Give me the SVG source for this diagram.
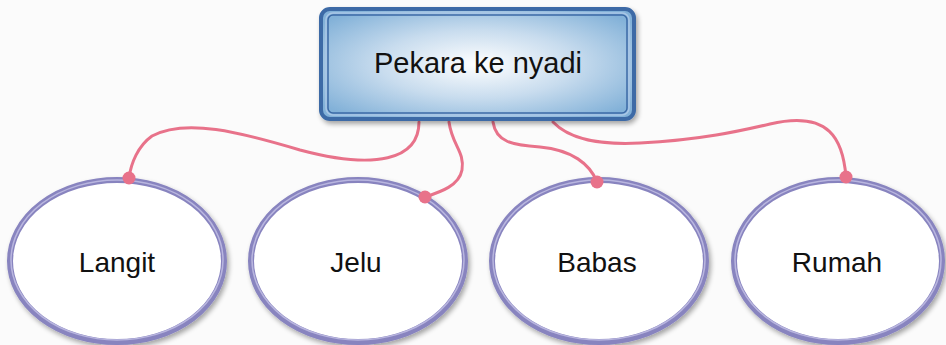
<svg xmlns="http://www.w3.org/2000/svg" width="946" height="345" viewBox="0 0 946 345">
<defs>
<radialGradient id="boxFill" cx="50%" cy="50%" r="62%">
<stop offset="0" stop-color="#ffffff"/>
<stop offset="0.5" stop-color="#c8dcee"/>
<stop offset="1" stop-color="#82b1d8"/>
</radialGradient>
<filter id="shadow" x="-10%" y="-10%" width="125%" height="130%">
<feGaussianBlur in="SourceAlpha" stdDeviation="2.5"/>
<feOffset dx="2" dy="3" result="b"/>
<feComponentTransfer><feFuncA type="linear" slope="0.35"/></feComponentTransfer>
<feMerge><feMergeNode/><feMergeNode in="SourceGraphic"/></feMerge>
</filter>
</defs>
<style>
.lbl{font-family:"Liberation Sans",Arial,sans-serif;font-size:28px;fill:#111;text-anchor:middle}
.ell{fill:#ffffff;stroke:#8884bf;stroke-width:6}
.ellhi{fill:none;stroke:#b9b6df;stroke-width:1.5}
.con{fill:none;stroke:#e8728a;stroke-width:3;stroke-linecap:round}
.dot{fill:#e8728a}
</style>
<rect width="946" height="345" fill="#fbfbfb"/>
<g id="connectors">
<path class="con" d="M419,122 C419,160 375,170 300,150 C240,132 185,118 152,136 C138,146 131,163 129,178"/>
<path class="con" d="M449,122 C452,145 465,152 462,170 C459,186 440,192 425,197"/>
<path class="con" d="M493,122 C496,142 512,145 540,147 C572,150 590,164 597,182"/>
<path class="con" d="M553,122 C570,140 600,145 640,143 C700,140 740,131 770,124 C830,110 843,140 846,177"/>
</g>
<g id="root">
<g filter="url(#shadow)">
<rect x="321" y="9" width="313" height="110" rx="9" fill="url(#boxFill)" stroke="#3d6aa6" stroke-width="4"/>
</g>
<rect x="328" y="15" width="299" height="98" rx="5" fill="none" stroke="#3d6aa6" stroke-width="1.5"/>
<rect x="326" y="13" width="303" height="102" rx="7" fill="none" stroke="#a9c6e6" stroke-width="1.5"/>
<text class="lbl" x="478" y="73" style="font-size:29px">Pekara ke nyadi</text>
</g>
<g id="langit">
<ellipse class="ell" cx="117" cy="261" rx="107" ry="81" filter="url(#shadow)"/>
<ellipse class="ellhi" cx="117" cy="260" rx="106" ry="80"/>
<text class="lbl" x="117" y="272">Langit</text>
</g>
<g id="jelu">
<ellipse class="ell" cx="358" cy="261" rx="107" ry="81" filter="url(#shadow)"/>
<ellipse class="ellhi" cx="358" cy="260" rx="106" ry="80"/>
<text class="lbl" x="356" y="272">Jelu</text>
</g>
<g id="babas">
<ellipse class="ell" cx="599" cy="261" rx="107" ry="81" filter="url(#shadow)"/>
<ellipse class="ellhi" cx="599" cy="260" rx="106" ry="80"/>
<text class="lbl" x="597" y="272">Babas</text>
</g>
<g id="rumah">
<ellipse class="ell" cx="838" cy="261" rx="104" ry="81" filter="url(#shadow)"/>
<ellipse class="ellhi" cx="838" cy="260" rx="103" ry="80"/>
<text class="lbl" x="837" y="272">Rumah</text>
</g>
<g id="dots">
<circle class="dot" cx="129" cy="178" r="6.5"/>
<circle class="dot" cx="425" cy="197" r="6.5"/>
<circle class="dot" cx="597" cy="182" r="6.5"/>
<circle class="dot" cx="846" cy="177" r="6.5"/>
</g>
</svg>
